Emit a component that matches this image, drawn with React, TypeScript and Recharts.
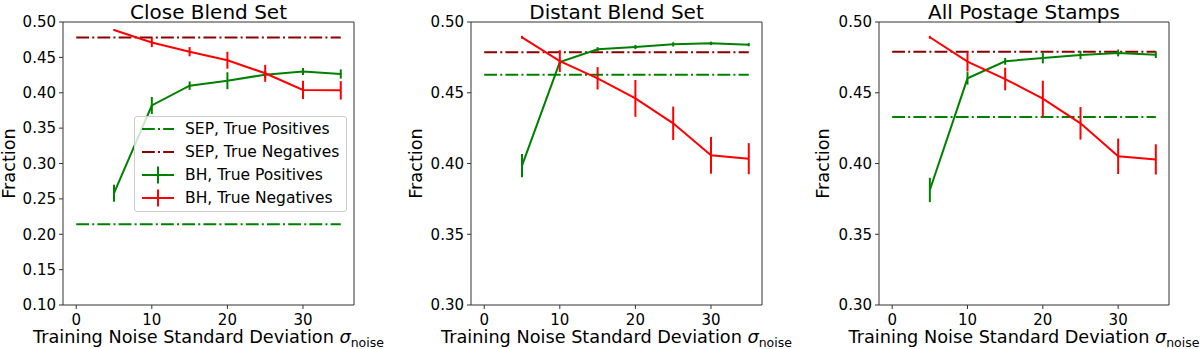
import { ComposedChart, ErrorBar, Label, Line, ReferenceArea, XAxis, YAxis } from "recharts"

const FONT = "DejaVu Sans, Verdana, sans-serif"

// training noise levels
const NOISE = [5, 10, 15, 20, 25, 30, 35]
const SEP_SPAN = [0, 35]
const X_TICKS = [0, 10, 20, 30]
const Y_TICKS_CLOSE = [0.1, 0.15, 0.2, 0.25, 0.3, 0.35, 0.4, 0.45, 0.5]
const Y_TICKS_WIDE = [0.3, 0.35, 0.4, 0.45, 0.5]

const TITLES = ["Close Blend Set", "Distant Blend Set", "All Postage Stamps"]

// close blends
const CLOSE_BH_TP = [0.258, 0.382, 0.41, 0.417, 0.4256, 0.43, 0.4265]
const CLOSE_BH_TP_ERR = [0.012, 0.012, 0.006, 0.012, 0.005, 0.005, 0.0065]
const CLOSE_BH_TN = [0.4887, 0.471, 0.458, 0.446, 0.4275, 0.404, 0.4034]
const CLOSE_BH_TN_ERR = [0.001, 0.0065, 0.0065, 0.012, 0.012, 0.013, 0.013]
const CLOSE_SEP_TP = 0.214
const CLOSE_SEP_TN = 0.478

// distant blends
const DIST_BH_TP = [0.3985, 0.4717, 0.4807, 0.4823, 0.4842, 0.4849, 0.484]
const DIST_BH_TP_ERR = [0.0082, 0.0015, 0.0015, 0.0015, 0.0015, 0.0012, 0.0012]
const DIST_BH_TN = [0.4892, 0.4724, 0.4602, 0.446, 0.4284, 0.4058, 0.4034]
const DIST_BH_TN_ERR = [0.001, 0.0077, 0.0079, 0.013, 0.0118, 0.013, 0.011]
const DIST_SEP_TP = 0.4628
const DIST_SEP_TN = 0.4786

// all postage stamps
const ALL_BH_TP = [0.3813, 0.4602, 0.4722, 0.4746, 0.4767, 0.4781, 0.4769]
const ALL_BH_TP_ERR = [0.0086, 0.0044, 0.0024, 0.0038, 0.003, 0.0024, 0.0024]
const ALL_BH_TN = [0.4892, 0.472, 0.4597, 0.4458, 0.4284, 0.4051, 0.4029]
const ALL_BH_TN_ERR = [0.001, 0.007, 0.008, 0.0127, 0.0115, 0.0125, 0.0107]
const ALL_SEP_TP = 0.4329
const ALL_SEP_TN = 0.479

const LEGEND_LABELS = ["SEP, True Positives", "SEP, True Negatives", "BH, True Positives", "BH, True Negatives"]

const GREEN = "#008000"
const DARKRED = "#8b0000"
const RED = "#ff0000"
const DASHDOT = "12.8 3.2 2 3.2"

const series = (ys: number[], errs: number[]) => NOISE.map((x, i) => ({ x, y: ys[i], err: errs[i] }))
const flat = (v: number) => SEP_SPAN.map((x) => ({ x, y: v }))

const panels = [
  {
    title: TITLES[0],
    yTicks: Y_TICKS_CLOSE,
    tp: series(CLOSE_BH_TP, CLOSE_BH_TP_ERR),
    tn: series(CLOSE_BH_TN, CLOSE_BH_TN_ERR),
    sepTp: flat(CLOSE_SEP_TP),
    sepTn: flat(CLOSE_SEP_TN),
    plotLeft: 63,
    plotRight: 354,
    yLabelX: 9,
    legend: true,
  },
  {
    title: TITLES[1],
    yTicks: Y_TICKS_WIDE,
    tp: series(DIST_BH_TP, DIST_BH_TP_ERR),
    tn: series(DIST_BH_TN, DIST_BH_TN_ERR),
    sepTp: flat(DIST_SEP_TP),
    sepTn: flat(DIST_SEP_TN),
    plotLeft: 71,
    plotRight: 362,
    yLabelX: 16,
    legend: false,
  },
  {
    title: TITLES[2],
    yTicks: Y_TICKS_WIDE,
    tp: series(ALL_BH_TP, ALL_BH_TP_ERR),
    tn: series(ALL_BH_TN, ALL_BH_TN_ERR),
    sepTp: flat(ALL_SEP_TP),
    sepTn: flat(ALL_SEP_TN),
    plotLeft: 79,
    plotRight: 369,
    yLabelX: 23,
    legend: false,
  },
]

const W = 400
const H = 349
const TOP = 22
const BOTTOM = 305
const X_DOMAIN = [-1.75, 36.75]
const LABEL_SIZE = 17.7

function LegendBox() {
  const rows = [
    { color: GREEN, dash: true },
    { color: DARKRED, dash: true },
    { color: GREEN, dash: false },
    { color: RED, dash: false },
  ]
  return (
    <div
      style={{
        position: "absolute",
        left: 134,
        top: 116,
        width: 211,
        height: 94,
        border: "1px solid #cccccc",
        borderRadius: 3,
        background: "rgba(255,255,255,0.8)",
        fontFamily: FONT,
        fontSize: 15.5,
      }}
    >
      {rows.map((r, i) => (
        <div key={i} style={{ position: "absolute", left: 6, top: 1 + i * 23, height: 22, display: "flex", alignItems: "center" }}>
          <svg width={34} height={22}>
            <line x1={1} x2={33} y1={11} y2={11} stroke={r.color} strokeWidth={2} strokeDasharray={r.dash ? DASHDOT : undefined} />
            {!r.dash && <line x1={17} x2={17} y1={2.5} y2={19.5} stroke={r.color} strokeWidth={2} />}
          </svg>
          <span style={{ marginLeft: 10, whiteSpace: "nowrap" }}>{LEGEND_LABELS[i]}</span>
        </div>
      ))}
    </div>
  )
}

function Panel({ p, left }: { p: (typeof panels)[number]; left: number }) {
  const yDomain = [p.yTicks[0], p.yTicks[p.yTicks.length - 1]]
  const tickStyle = { fill: "#000", fontSize: 15, fontFamily: FONT }
  return (
    <div style={{ position: "absolute", left, top: 0, width: W, height: H }}>
      <ComposedChart
        width={W}
        height={H}
        margin={{ top: TOP, right: W - p.plotRight, bottom: 0, left: 0 }}
      >
        <XAxis
          dataKey="x"
          type="number"
          domain={X_DOMAIN}
          ticks={X_TICKS}
          allowDataOverflow
          height={H - BOTTOM}
          tickSize={4}
          tickMargin={5}
          tick={tickStyle}
          stroke="#333"
          axisLine={false}
        >
          <Label
            content={({ viewBox }: any) => (
              <text
                x={viewBox.x + viewBox.width / 2}
                y={343}
                textAnchor="middle"
                fontFamily={FONT}
                fontSize={LABEL_SIZE}
                fill="#000"
              >
                Training Noise Standard Deviation{" "}
                <tspan fontStyle="italic">σ</tspan>
                <tspan fontSize={12.5} dy={4}>noise</tspan>
              </text>
            )}
          />
        </XAxis>
        <YAxis
          type="number"
          domain={yDomain}
          ticks={p.yTicks}
          allowDataOverflow
          width={p.plotLeft}
          tickSize={4}
          tickMargin={3}
          tick={tickStyle}
          tickFormatter={(v: number) => v.toFixed(2)}
          stroke="#333"
          axisLine={false}
        >
          <Label
            content={() => (
              <text
                x={p.yLabelX}
                y={(TOP + BOTTOM) / 2}
                transform={`rotate(-90 ${p.yLabelX} ${(TOP + BOTTOM) / 2})`}
                textAnchor="middle"
                dominantBaseline="central"
                fontFamily={FONT}
                fontSize={LABEL_SIZE}
                fill="#000"
              >
                Fraction
              </text>
            )}
          />
        </YAxis>
        <Line data={p.sepTp} dataKey="y" stroke={GREEN} strokeWidth={2} strokeDasharray={DASHDOT} dot={false} isAnimationActive={false} />
        <Line data={p.sepTn} dataKey="y" stroke={DARKRED} strokeWidth={2} strokeDasharray={DASHDOT} dot={false} isAnimationActive={false} />
        <Line data={p.tp} dataKey="y" stroke={GREEN} strokeWidth={2} dot={false} isAnimationActive={false}>
          <ErrorBar dataKey="err" direction="y" width={0} stroke={GREEN} strokeWidth={2} isAnimationActive={false} />
        </Line>
        <Line data={p.tn} dataKey="y" stroke={RED} strokeWidth={2} dot={false} isAnimationActive={false}>
          <ErrorBar dataKey="err" direction="y" width={0} stroke={RED} strokeWidth={2} isAnimationActive={false} />
        </Line>
        <ReferenceArea
          x1={X_DOMAIN[0]}
          x2={X_DOMAIN[1]}
          y1={yDomain[0]}
          y2={yDomain[1]}
          fill="none"
          stroke="#333"
          strokeWidth={1}
          ifOverflow="visible"
        />
      </ComposedChart>
      <svg style={{ position: "absolute", left: 0, top: 0, overflow: "visible" }} width={W} height={30}>
        <text
          x={(p.plotLeft + p.plotRight) / 2}
          y={18.5}
          textAnchor="middle"
          fontFamily={FONT}
          fontSize={20}
          fill="#000"
        >
          {p.title}
        </text>
      </svg>
      {p.legend && <LegendBox />}
    </div>
  )
}

export default function App() {
  return (
    <div style={{ position: "absolute", left: 0, top: 0, width: 1200, height: H, background: "#fff", overflow: "hidden" }}>
      {panels.map((p, i) => (
        <Panel key={i} p={p} left={i * W} />
      ))}
    </div>
  )
}
